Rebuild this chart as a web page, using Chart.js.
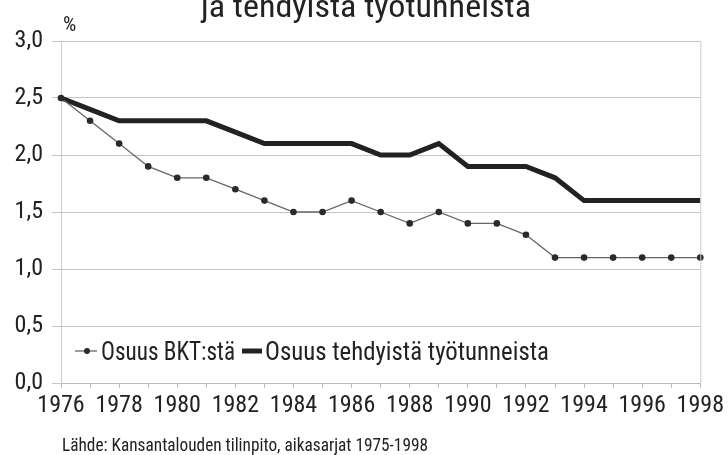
<!DOCTYPE html>
<html lang="fi">
    <head>
        <meta charset="utf-8" />
        <script src="https://cdn.jsdelivr.net/npm/chart.js@4.4.1/dist/chart.umd.min.js"></script>
        <title>Osuus BKT:stä ja tehdyistä työtunneista</title>
        <style>
            html, body { margin: 0; padding: 0; background: #fff; }
            #kaavio { display: block; }
        </style>
    </head>
    <body>
        <canvas id="kaavio" width="728" height="455"></canvas>
        <script>
            // Vuodet ja sarjat luettu kuvasta
            const vuodet = [1976, 1977, 1978, 1979, 1980, 1981, 1982, 1983, 1984, 1985, 1986,
                            1987, 1988, 1989, 1990, 1991, 1992, 1993, 1994, 1995, 1996, 1997, 1998];
            const osuusBkt = [2.5, 2.3, 2.1, 1.9, 1.8, 1.8, 1.7, 1.6, 1.5, 1.5, 1.6,
                              1.5, 1.4, 1.5, 1.4, 1.4, 1.3, 1.1, 1.1, 1.1, 1.1, 1.1, 1.1];
            const osuusTunnit = [2.5, 2.4, 2.3, 2.3, 2.3, 2.3, 2.2, 2.1, 2.1, 2.1, 2.1,
                                 2.0, 2.0, 2.1, 1.9, 1.9, 1.9, 1.8, 1.6, 1.6, 1.6, 1.6, 1.6];
            const sarjaNimet = ["Osuus BKT:stä", "Osuus tehdyistä työtunneista"];
            const otsikko = "ja tehdyistä työtunneista";
            const lahde = "Lähde: Kansantalouden tilinpito, aikasarjat 1975-1998";

            const kapea = '"Roboto Condensed", "Liberation Sans Narrow", sans-serif';
            const teksti = "#222";

            // teksti venytetään/puristetaan annettuun leveyteen
            function sovita(c, s, x, y, leveys) {
                const w = c.measureText(s).width;
                c.save();
                c.translate(x, y);
                c.scale(leveys / w, 1);
                c.fillText(s, 0, 0);
                c.restore();
            }

            // Otsikko, %-merkki, selite, oikea reuna ja lähde piirretään itse
            const lisat = {
                id: "lisat",
                afterDraw(chart) {
                    const c = chart.ctx;
                    const a = chart.chartArea;
                    c.save();
                    c.strokeStyle = "#ccc";
                    c.lineWidth = 1;
                    c.beginPath(); c.moveTo(a.right + 0.5, a.top); c.lineTo(a.right + 0.5, a.bottom); c.stroke();

                    c.fillStyle = teksti;
                    c.textBaseline = "alphabetic";
                    c.textAlign = "left";
                    c.font = "32px " + kapea;
                    sovita(c, otsikko, 201, 17, 330);
                    c.font = "21px " + kapea;
                    c.fillText("%", 63, 31);
                    c.font = "18px " + kapea;
                    sovita(c, lahde, 62, 451, 366);

                    // selite
                    const y = 351;
                    c.font = "25px " + kapea;
                    const d0 = chart.data.datasets[0];
                    c.strokeStyle = d0.borderColor;
                    c.lineWidth = d0.borderWidth;
                    c.beginPath(); c.moveTo(75, y); c.lineTo(97, y); c.stroke();
                    c.fillStyle = d0.pointBackgroundColor;
                    c.beginPath(); c.arc(87, y, 3, 0, Math.PI * 2); c.fill();
                    c.fillStyle = teksti;
                    sovita(c, d0.label, 101, y + 9, 134);
                    const d1 = chart.data.datasets[1];
                    c.strokeStyle = d1.borderColor;
                    c.lineWidth = d1.borderWidth;
                    c.beginPath(); c.moveTo(242, y); c.lineTo(262, y); c.stroke();
                    sovita(c, d1.label, 265, y + 9, 284);
                    c.restore();
                }
            };

            new Chart(document.getElementById("kaavio"), {
                type: "line",
                data: {
                    labels: vuodet,
                    datasets: [
                        {
                            label: sarjaNimet[0], data: osuusBkt,
                            borderColor: "#666", borderWidth: 1.3,
                            pointRadius: 3.3, pointBackgroundColor: "#2a2a2a", pointBorderWidth: 0,
                            tension: 0
                        },
                        {
                            label: sarjaNimet[1], data: osuusTunnit,
                            borderColor: "#222", borderWidth: 5,
                            pointRadius: 0, tension: 0
                        }
                    ]
                },
                options: {
                    responsive: false,
                    animation: false,
                    layout: { padding: { left: 0, right: 24, top: 41, bottom: 32 } },
                    plugins: { legend: { display: false }, tooltip: { enabled: false } },
                    scales: {
                        x: {
                            type: "category",
                            offset: false,
                            grid: { drawOnChartArea: false, drawTicks: true, tickLength: 5, color: "#bbb" },
                            border: { color: "#bbb" },
                            ticks: {
                                autoSkip: false, maxRotation: 0, color: teksti, padding: 4,
                                font: { family: kapea, size: 24 },
                                callback: function (v, i) { return vuodet[i] % 2 === 0 ? String(vuodet[i]) : ""; }
                            },
                            afterFit: function (s) { s.height = 40; }
                        },
                        y: {
                            min: 0, max: 3,
                            grid: { color: "#c4c4c4", tickLength: 9 },
                            border: { color: "#ccc" },
                            ticks: {
                                stepSize: 0.5, color: teksti, padding: 9,
                                font: { family: kapea, size: 24 },
                                callback: function (v) { return v.toFixed(1).replace(".", ","); }
                            },
                            afterFit: function (s) { s.width = 61; }
                        }
                    }
                },
                plugins: [lisat]
            });
        </script>
    </body>
</html>
